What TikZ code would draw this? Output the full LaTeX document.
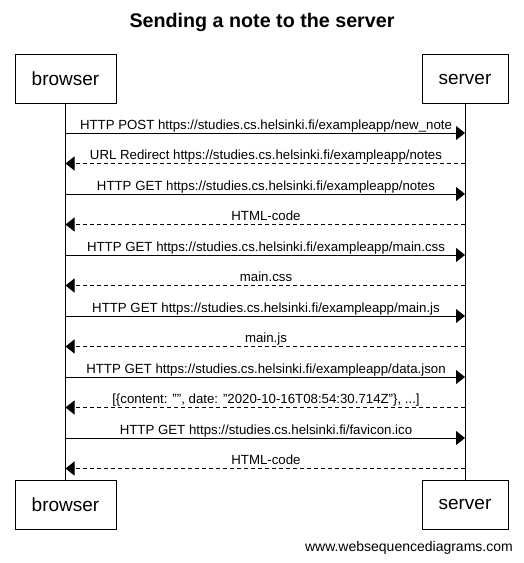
\documentclass[tikz,border=0pt]{standalone}
\usepackage{fontspec}
\setmainfont{Liberation Sans}
\usetikzlibrary{arrows.meta}
\begin{document}
\begin{tikzpicture}[x=1pt,y=-1pt,
  actor/.style={draw,line width=1pt,minimum height=49pt,inner sep=0pt,font=\fontsize{19}{22}\selectfont},
  life/.style={line width=1pt},
  req/.style={line width=1pt,-{Triangle[length=9pt,width=14pt]}},
  resp/.style={line width=1pt,dash pattern=on 4pt off 3pt,-{Triangle[length=9pt,width=14pt]}},
  msg/.style={anchor=base,inner sep=0pt,font=\fontsize{13.25}{15}\selectfont}]
\useasboundingbox (0,0) rectangle (523,563);
\node[font=\bfseries\fontsize{19.7}{23}\selectfont] (title) at (262,22) {Sending a note to the server};
\node[actor,minimum width=101pt] (bt) at (65.5,79) {browser};
\node[actor,minimum width=86pt] (st) at (465,79) {server};
\node[actor,minimum width=101pt] (bb) at (65.5,504.5) {browser};
\node[actor,minimum width=86pt] (sb) at (465,504.5) {server};
\draw[life] (bt.south) -- (bb.north);
\draw[life] (st.south) -- (sb.north);
\foreach \i/\y in {1/133,2/163.5,3/194,4/224.5,5/255,6/285.5,7/316,8/346.5,9/377,10/407.5,11/438,12/468.5}{
  \coordinate (b\i) at (bt.south |- 0,\y);
  \coordinate (s\i) at (st.south |- 0,\y);
  \coordinate (m\i) at (266,\y-4);
}
\draw[req] (b1) -- (s1);
\node[msg] (l1) at (m1) {HTTP POST https://studies.cs.helsinki.fi/exampleapp/new\_note};
\draw[resp] (s2) -- (b2);
\node[msg] (l2) at (m2) {URL Redirect https://studies.cs.helsinki.fi/exampleapp/notes};
\draw[req] (b3) -- (s3);
\node[msg] (l3) at (m3) {HTTP GET https://studies.cs.helsinki.fi/exampleapp/notes};
\draw[resp] (s4) -- (b4);
\node[msg] (l4) at (m4) {HTML-code};
\draw[req] (b5) -- (s5);
\node[msg] (l5) at (m5) {HTTP GET https://studies.cs.helsinki.fi/exampleapp/main.css};
\draw[resp] (s6) -- (b6);
\node[msg] (l6) at (m6) {main.css};
\draw[req] (b7) -- (s7);
\node[msg] (l7) at (m7) {HTTP GET https://studies.cs.helsinki.fi/exampleapp/main.js};
\draw[resp] (s8) -- (b8);
\node[msg] (l8) at (m8) {main.js};
\draw[req] (b9) -- (s9);
\node[msg] (l9) at (m9) {HTTP GET https://studies.cs.helsinki.fi/exampleapp/data.json};
\draw[resp] (s10) -- (b10);
\node[msg] (l10) at (m10) {[\{content: "", date: "2020-10-16T08:54:30.714Z"\}, ...]};
\draw[req] (b11) -- (s11);
\node[msg] (l11) at (m11) {HTTP GET https://studies.cs.helsinki.fi/favicon.ico};
\draw[resp] (s12) -- (b12);
\node[msg] (l12) at (m12) {HTML-code};
\node[anchor=east,inner sep=0pt,font=\fontsize{14}{16}\selectfont] (foot) at (513,548) {www.websequencediagrams.com};
\end{tikzpicture}
\end{document}
